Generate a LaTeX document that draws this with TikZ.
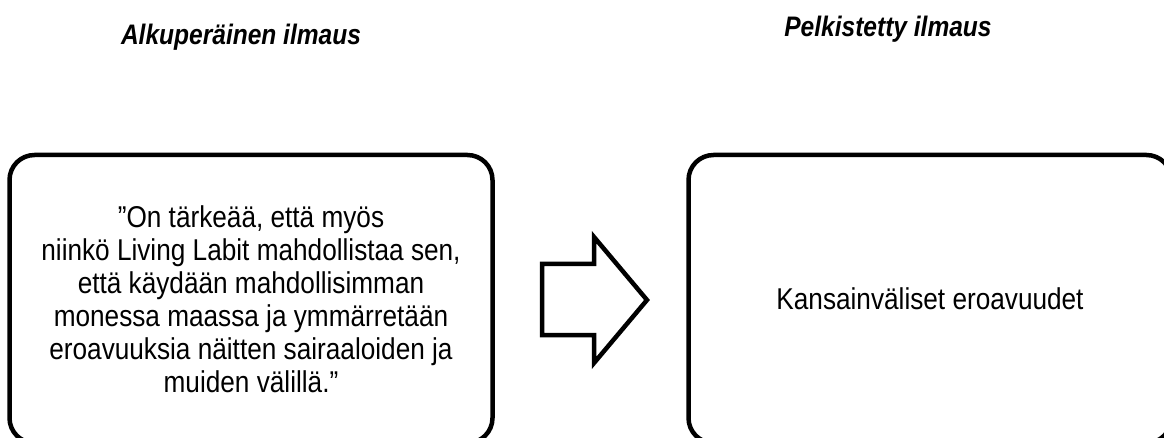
\documentclass[tikz,border=0pt]{standalone}
\usepackage{fontspec}
\setmainfont{Liberation Sans}
\newfontfamily\narrowfont[FakeStretch=0.87]{Liberation Sans}
\usetikzlibrary{positioning}

\begin{document}
\begin{tikzpicture}[x=1pt, y=1pt,
    box/.style={draw, line width=4.5pt, rounded corners=25pt, minimum width=483pt, minimum height=288pt, align=center, font=\narrowfont\fontsize{30.1}{33}\selectfont},
    title/.style={font=\narrowfont\fontsize{28.2}{30}\selectfont\bfseries\itshape}]
  % fix the page to the size of the original
  \useasboundingbox (0,0) rectangle (1164,-438);
  \clip (0,0) rectangle (1164,-438);

  % titles over the two columns
  \node[title] (alku) at (241,-37) {Alkuperäinen ilmaus};
  \node[title] (pelk) at (888,-29) {Pelkistetty ilmaus};

  % the two boxes
  \node[box] (orig) at (251,-299) {”On tärkeää, että myös\\ niinkö Living Labit mahdollistaa sen,\\ että käydään mahdollisimman\\ monessa maassa ja ymmärretään\\ eroavuuksia näitten sairaaloiden ja\\ muiden välillä.”};
  \node[box] (simp) at (930,-299) {Kansainväliset eroavuudet};

  % block arrow between them
  \draw[line width=4.5pt] (542,-264) -- (594,-264) -- (594,-237) -- (647,-300)
     -- (594,-363) -- (594,-335) -- (542,-335) -- cycle;
\end{tikzpicture}
\end{document}
